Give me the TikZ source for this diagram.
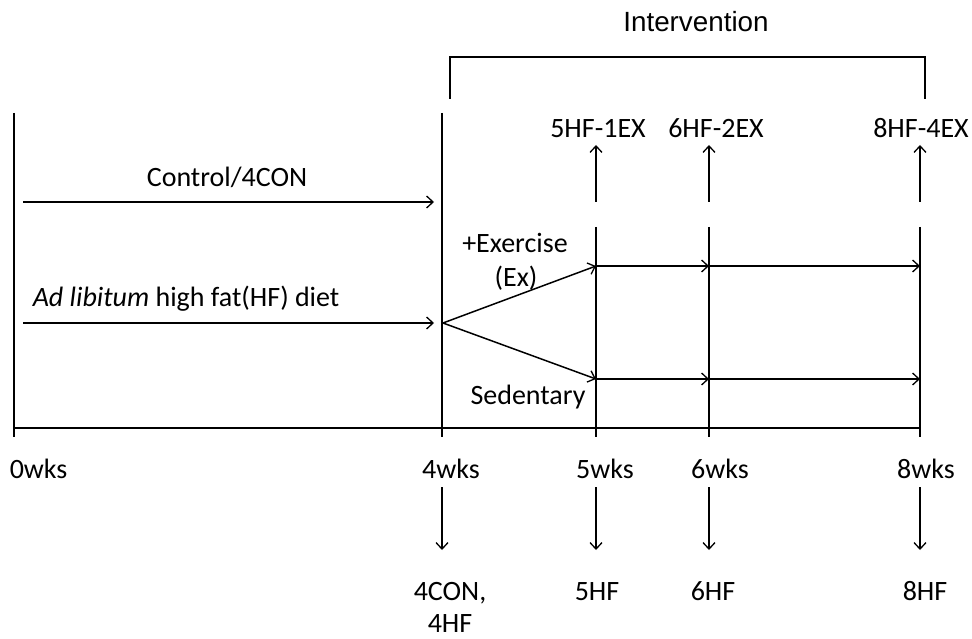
\documentclass[tikz,border=0pt]{standalone}
\usepackage{fontspec}
\setmainfont{Carlito}
\newfontfamily\arialf{Liberation Sans}
\usetikzlibrary{arrows.meta}
\begin{document}
\begin{tikzpicture}[x=1pt,y=-1pt,line width=1.5pt,
  arr/.style={-{Straight Barb[length=6.5pt,width=12pt,line width=1.3pt]}},
  lbl/.style={font=\fontsize{28}{32}\selectfont,inner sep=0pt,anchor=base},
  tlbl/.style={font=\arialf\fontsize{27.8}{32}\selectfont,inner sep=0pt,anchor=base}]
\useasboundingbox (0,0) rectangle (972,639);
% bracket
\coordinate (bl) at (450,99); \coordinate (blt) at (450,57);
\coordinate (br) at (925,99); \coordinate (brt) at (925,57);
\draw[line width=1.4pt] (bl) -- (blt);
\draw[line width=1.4pt] (br) -- (brt);
\draw[line width=2.8pt] ([xshift=-0.7pt]blt) -- ([xshift=0.7pt]brt);
\node[tlbl] (interv) at (696,32) {Intervention};
% time points
\coordinate (t0) at (14,428); \coordinate (t4) at (442,428);
\coordinate (t5) at (596,428); \coordinate (t6) at (709,428); \coordinate (t8) at (920,428);
\coordinate (t0b) at (14,437); \coordinate (t4b) at (442,437);
\coordinate (t5b) at (596,437); \coordinate (t6b) at (709,437); \coordinate (t8b) at (920,437);
\coordinate (t0t) at (14,113); \coordinate (t4t) at (442,113);
\coordinate (t5t) at (596,227); \coordinate (t6t) at (709,227); \coordinate (t8t) at (920,227);
\draw (t0) -- (t8);
\draw (t0t) -- (t0b);
\draw (t4t) -- (t4b);
\draw (t5t) -- (t5b);
\draw (t6t) -- (t6b);
\draw (t8t) -- (t8b);
% up arrows
\coordinate (u5a) at (596,202); \coordinate (u5b) at (596,145);
\coordinate (u6a) at (709,202); \coordinate (u6b) at (709,145);
\coordinate (u8a) at (920,202); \coordinate (u8b) at (920,145);
\draw[arr,line width=1.3pt] (u5a) -- (u5b);
\draw[arr,line width=1.3pt] (u6a) -- (u6b);
\draw[arr,line width=1.3pt] (u8a) -- (u8b);
\node[lbl] (l5up) at (598,138) {5HF-1EX};
\node[lbl] (l6up) at (716,138) {6HF-2EX};
\node[lbl] (l8up) at (921,138) {8HF-4EX};
% left arrows
\coordinate (ca) at (23,202); \coordinate (cb) at (434,202);
\coordinate (ha) at (23,323); \coordinate (hb) at (434,323);
\draw[arr] (ca) -- (cb);
\draw[arr] (ha) -- (hb);
\node[lbl] (ctrl) at (227,187) {Control/4CON};
\node[lbl,anchor=base west] (hf) at (32,306) {\textit{Ad libitum} high fat(HF) diet};
% branch
\coordinate (br0) at (443,323);
\coordinate (ex5) at (596,266); \coordinate (ex6) at (709,266); \coordinate (ex8) at (920,266);
\coordinate (se5) at (596,379); \coordinate (se6) at (709,379); \coordinate (se8) at (920,379);
\draw[arr] (br0) -- (ex5);
\draw[arr] (br0) -- (se5);
\draw[arr] (ex5) -- (ex6);
\draw[arr] (ex6) -- (ex8);
\draw[arr] (se5) -- (se6);
\draw[arr] (se6) -- (se8);
\node[lbl] (exl) at (515,252) {+Exercise};
\node[lbl] (exl2) at (516,287) {(Ex)};
\node[lbl] (sed) at (528,404) {Sedentary};
% week labels
\node[lbl,anchor=base west] (w0) at (9,478) {0wks};
\node[lbl] (w4) at (451,478) {4wks};
\node[lbl] (w5) at (605,478) {5wks};
\node[lbl] (w6) at (720,478) {6wks};
\node[lbl] (w8) at (926,478) {8wks};
% down arrows
\coordinate (d4a) at (442,487); \coordinate (d4b) at (442,550);
\coordinate (d5a) at (596,487); \coordinate (d5b) at (596,550);
\coordinate (d6a) at (709,487); \coordinate (d6b) at (709,550);
\coordinate (d8a) at (920,487); \coordinate (d8b) at (920,550);
\draw[arr,line width=1.3pt] (d4a) -- (d4b);
\draw[arr,line width=1.3pt] (d5a) -- (d5b);
\draw[arr,line width=1.3pt] (d6a) -- (d6b);
\draw[arr,line width=1.3pt] (d8a) -- (d8b);
\node[lbl] (g4) at (450,600) {4CON,};
\node[lbl] (g4b) at (450,632) {4HF};
\node[lbl] (g5) at (597,600) {5HF};
\node[lbl] (g6) at (713,600) {6HF};
\node[lbl] (g8) at (925,600) {8HF};
\end{tikzpicture}
\end{document}
